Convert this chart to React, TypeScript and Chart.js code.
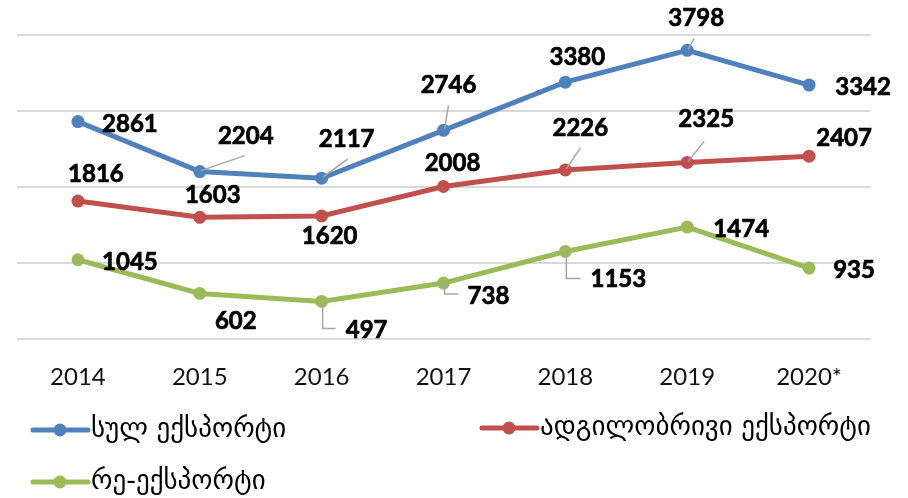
import React, { useEffect, useRef } from "react";
import { Chart, registerables } from "chart.js";

Chart.register(...registerables);

const years = ["2014", "2015", "2016", "2017", "2018", "2019", "2020*"];
const totalExport = [2861, 2204, 2117, 2746, 3380, 3798, 3342];
const domesticExport = [1816, 1603, 1620, 2008, 2226, 2325, 2407];
const reExport = [1045, 602, 497, 738, 1153, 1474, 935];

const seriesNames = ["სულ ექსპორტი", "ადგილობრივი ექსპორტი", "რე-ექსპორტი"];
const seriesColors = ["#4F81BD", "#C0504D", "#9BBB59"];

// label placement: [dx, dy, leaderType, lx, ly]
type Place = [number, number, string?, number?, number?];
const labelPlacement: Place[][] = [
  [[52, 3], [46, -35, "line", 45, -16], [25, -39, "line", 26, -19], [5, -45, "line", 5, -25], [12, -25], [9, -32, "line", 7, -12], [54, 2]],
  [[18, -27], [13, -22], [8, 20], [9, -23], [15, -42, "line", 15, -22], [19, -43, "line", 17, -21], [35, -18]],
  [[52, 3], [36, 28], [45, 29, "elbow", 14, 27], [45, 13, "elbow", 15, 11], [53, 28, "elbow", 15, 27], [54, 2], [45, 2]],
];

const legendSpots = [
  { x: 33, y: 430 },
  { x: 482, y: 428 },
  { x: 33, y: 482 },
];

const labelsPlugin = {
  id: "valueLabels",
  afterDatasetsDraw(chart: any) {
    const ctx = chart.ctx;
    ctx.save();
    chart.data.datasets.forEach((ds: any, di: number) => {
      const meta = chart.getDatasetMeta(di);
      meta.data.forEach((pt: any, i: number) => {
        const p = labelPlacement[di][i];
        const x = pt.x, y = pt.y;
        if (p[2]) {
          ctx.strokeStyle = "#A6A6A6";
          ctx.lineWidth = 1.5;
          ctx.beginPath();
          if (p[2] === "line") {
            ctx.moveTo(x + 1, y - 1);
            ctx.lineTo(x + (p[3] as number), y + (p[4] as number));
          } else {
            ctx.moveTo(x + 1, y);
            ctx.lineTo(x + 1, y + (p[4] as number));
            ctx.lineTo(x + (p[3] as number), y + (p[4] as number));
          }
          ctx.stroke();
        }
        ctx.fillStyle = "#000000";
        ctx.strokeStyle = "#000000";
        ctx.lineWidth = 0.7;
        ctx.font = "bold 24px Lato, 'DejaVu Sans', sans-serif";
        ctx.textAlign = "center";
        ctx.textBaseline = "middle";
        const t = String(ds.data[i]);
        ctx.fillText(t, x + p[0], y + p[1]);
        ctx.strokeText(t, x + p[0], y + p[1]);
      });
    });
    ctx.restore();
  },
  afterDraw(chart: any) {
    const ctx = chart.ctx;
    ctx.save();
    chart.data.datasets.forEach((ds: any, di: number) => {
      const s = legendSpots[di];
      ctx.strokeStyle = ds.borderColor;
      ctx.lineWidth = 5;
      ctx.lineCap = "round";
      ctx.beginPath();
      ctx.moveTo(s.x, s.y);
      ctx.lineTo(s.x + 55, s.y);
      ctx.stroke();
      ctx.fillStyle = ds.borderColor;
      ctx.beginPath();
      ctx.arc(s.x + 27, s.y, 6.5, 0, Math.PI * 2);
      ctx.fill();
      ctx.fillStyle = "#000000";
      ctx.font = "27px 'DejaVu Sans', sans-serif";
      ctx.textAlign = "left";
      ctx.textBaseline = "middle";
      ctx.fillText(ds.label, s.x + 58, s.y);
    });
    ctx.restore();
  },
};

export default function App() {
  const ref = useRef<HTMLCanvasElement | null>(null);
  useEffect(() => {
    if (!ref.current) return;
    const series = [totalExport, domesticExport, reExport];
    const chart = new Chart(ref.current, {
      type: "line",
      data: {
        labels: years,
        datasets: series.map((d, i) => ({
          label: seriesNames[i],
          data: d,
          borderColor: seriesColors[i],
          backgroundColor: seriesColors[i],
          borderWidth: 5,
          pointRadius: 6.5,
          pointHoverRadius: 6.5,
          pointBorderWidth: 0,
          tension: 0,
          fill: false,
        })),
      },
      options: {
        responsive: false,
        animation: false,
        devicePixelRatio: 1,
        layout: { padding: { left: 17, right: 38, top: 35, bottom: 82 } },
        plugins: { legend: { display: false }, tooltip: { enabled: false } },
        scales: {
          x: {
            offset: true,
            grid: { display: false, drawTicks: false },
            border: { display: false },
            ticks: {
              padding: 24,
              color: "#111111",
              font: { family: "Lato, 'DejaVu Sans', sans-serif", size: 24 },
            },
          },
          y: {
            min: 0,
            max: 4000,
            ticks: { display: false, stepSize: 1000 },
            grid: { color: "#D9D9D9", lineWidth: 2, drawTicks: false },
            border: { display: false },
          },
        },
      },
      plugins: [labelsPlugin],
    });
    return () => chart.destroy();
  }, []);
  return (
    <div style={{ position: "fixed", left: 0, top: 0, width: 908, height: 498, background: "#fff" }}>
      <canvas ref={ref} width={908} height={498} />
    </div>
  );
}
